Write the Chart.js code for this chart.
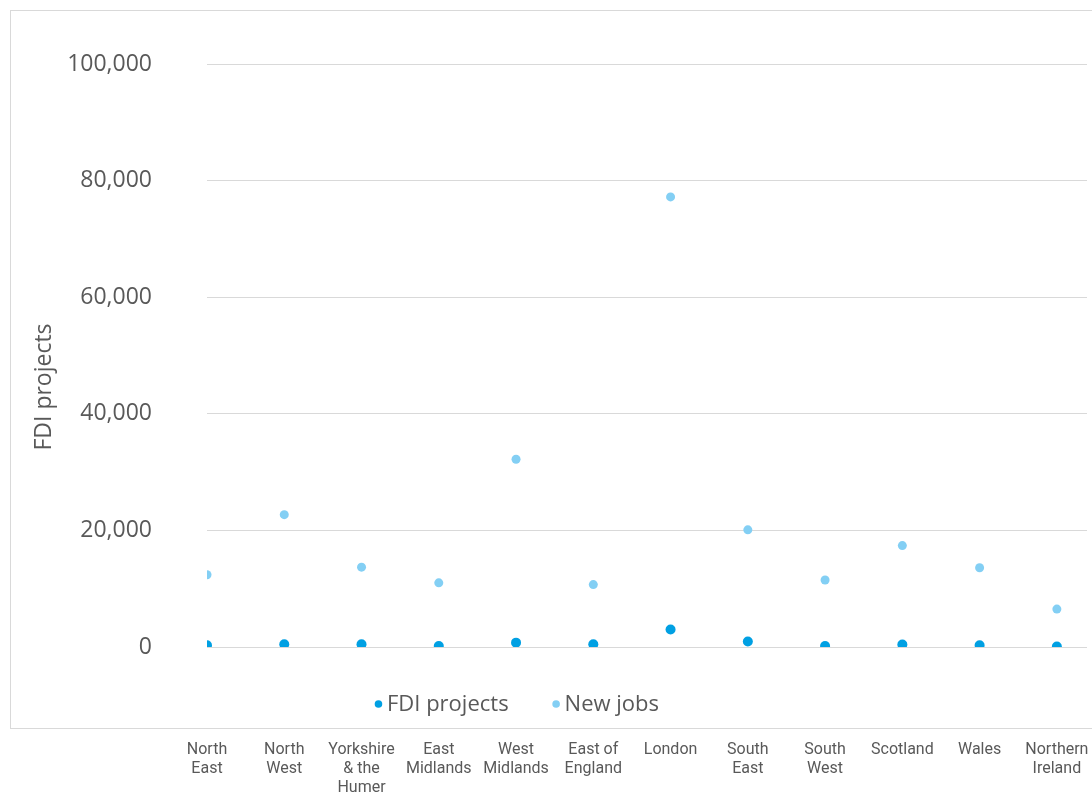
<!DOCTYPE html>
<html>
<head>
<meta charset="utf-8">
<script src="https://cdn.jsdelivr.net/npm/chart.js@4.4.1/dist/chart.umd.min.js"></script>
<style>
  html, body { margin: 0; padding: 0; background: #fff; }
  #wrap { width: 1092px; height: 794px; position: relative; }
</style>
</head>
<body>
<div id="wrap"><canvas id="chart" width="1092" height="794"></canvas></div>
<script>
// regions, in display order (multi-line labels)
const regions = [
  ["North", "East"], ["North", "West"], ["Yorkshire", "& the", "Humer"],
  ["East", "Midlands"], ["West", "Midlands"], ["East of", "England"],
  ["London"], ["South", "East"], ["South", "West"],
  ["Scotland"], ["Wales"], ["Northern", "Ireland"]
];
const fdiProjects = [300, 460, 460, 170, 750, 460, 3000, 930, 170, 410, 290, 80];
const newJobs = [12400, 22700, 13700, 11000, 32200, 10700, 77200, 20100, 11500, 17400, 13600, 6500];
const yTicks = [0, 20000, 40000, 60000, 80000, 100000];

const textColor = '#595959';
const fmt = v => String(v).replace(/\B(?=(\d{3})+(?!\d))/g, ',');

// light grey frame around the plot
const frame = {
  id: 'frame',
  beforeDraw(chart) {
    const ctx = chart.ctx;
    ctx.save();
    ctx.strokeStyle = '#d9d9d9';
    ctx.lineWidth = 1;
    ctx.strokeRect(10.5, 10.5, 1100, 718);
    ctx.restore();
  }
};

// rotated y axis title, sitting a little below the axis middle
const yTitle = {
  id: 'yTitle',
  afterDraw(chart) {
    const ctx = chart.ctx;
    ctx.save();
    ctx.translate(44, 387);
    ctx.rotate(-Math.PI / 2);
    ctx.font = '23px "Open Sans"';
    ctx.fillStyle = textColor;
    ctx.textAlign = 'center';
    ctx.textBaseline = 'middle';
    ctx.fillText('FDI projects', 0, 0);
    ctx.restore();
  }
};

// legend sits between the plot and the region labels
const midLegend = {
  id: 'midLegend',
  afterDraw(chart) {
    const ctx = chart.ctx;
    ctx.save();
    ctx.font = '22px "Open Sans"';
    ctx.textBaseline = 'middle';
    const sets = chart.data.datasets;
    const gap = 44;
    const widths = sets.map(d => 12 + ctx.measureText(d.label).width);
    const total = widths.reduce((a, b) => a + b, 0) + gap * (sets.length - 1);
    let x = 517 - total / 2;
    const y = 704;
    sets.forEach((d, i) => {
      ctx.fillStyle = d.backgroundColor;
      ctx.beginPath();
      ctx.arc(x + 3.5, y, 3.8, 0, Math.PI * 2);
      ctx.fill();
      ctx.fillStyle = textColor;
      ctx.fillText(d.label, x + 12, y + 1);
      x += widths[i] + gap;
    });
    ctx.restore();
  }
};

new Chart(document.getElementById('chart'), {
  type: 'scatter',
  data: {
    datasets: [
      {
        label: 'FDI projects',
        data: fdiProjects.map((v, i) => ({ x: i, y: v })),
        backgroundColor: '#00a0e3',
        borderWidth: 0,
        pointRadius: 5
      },
      {
        label: 'New jobs',
        data: newJobs.map((v, i) => ({ x: i, y: v })),
        backgroundColor: '#83cff4',
        borderWidth: 0,
        pointRadius: 4.5
      }
    ]
  },
  options: {
    responsive: false,
    animation: false,
    events: [],
    layout: { padding: { top: 64, right: 0, bottom: 0, left: 0 } },
    plugins: {
      legend: { display: false },
      tooltip: { enabled: false }
    },
    scales: {
      x: {
        type: 'linear',
        min: 0,
        max: 11.39,
        grid: { display: false },
        border: { display: false },
        afterFit(s) {
          s.height = 147;
          s.paddingLeft = 0;
          s.paddingRight = 0;
        },
        afterBuildTicks(s) { s.ticks = regions.map((r, i) => ({ value: i })); },
        ticks: {
          autoSkip: false,
          maxRotation: 0,
          padding: 86,
          color: textColor,
          font: { family: 'Roboto', size: 16, lineHeight: 1.17 },
          callback: v => regions[v] || ''
        }
      },
      y: {
        min: 0,
        max: 100000,
        afterBuildTicks(s) { s.ticks = yTicks.map(v => ({ value: v })); },
        afterFit(s) {
          s.width = 207;
          s.paddingTop = 0;
          s.paddingBottom = 0;
        },
        grid: { color: '#d9d9d9', drawTicks: false },
        border: { display: false },
        ticks: {
          padding: 55,
          color: textColor,
          font: { family: 'Open Sans', size: 23 },
          callback: v => fmt(v)
        }
      }
    }
  },
  plugins: [frame, yTitle, midLegend]
});
</script>
</body>
</html>
